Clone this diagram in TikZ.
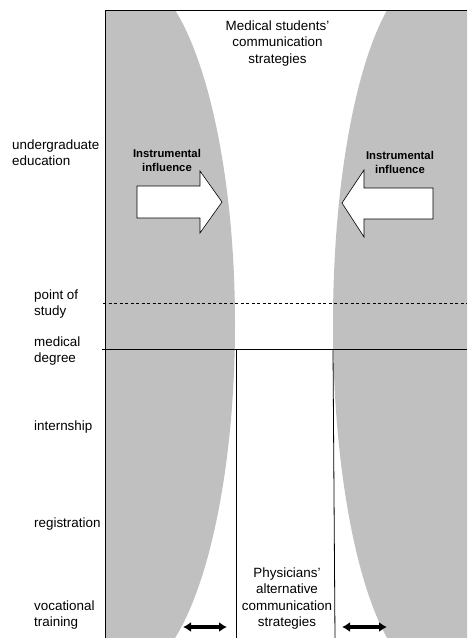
\documentclass[tikz,border=0pt]{standalone}
\usepackage{fontspec}
\setmainfont{Liberation Sans}
\usetikzlibrary{arrows.meta}
\definecolor{funnelgrey}{RGB}{192,192,192}
\begin{document}
\begin{tikzpicture}[x=1pt,y=-1pt,
  lbl/.style={anchor=west, align=left, font=\fontsize{13.4}{16}\selectfont, inner sep=0pt},
  ctext/.style={align=center, font=\fontsize{13.4}{16.5}\selectfont, inner sep=0pt},
  infl/.style={align=center, font=\bfseries\fontsize{11.3}{14}\selectfont, inner sep=0pt},
  frameline/.style={line width=0.8pt},
  blockarrow/.style={fill=white, draw=black, line width=0.6pt, line join=miter},
  spread/.style={line width=3.6pt, {Latex[length=8pt,width=10pt]}-{Latex[length=8pt,width=10pt]}}]
\useasboundingbox (0,0) rectangle (467,638);

% grey funnels on both sides
\begin{scope}
  \clip (105,10) rectangle (467,638);
  \fill[funnelgrey] (127.5,324) ellipse [x radius=107.5pt, y radius=350pt];
  \fill[funnelgrey] (430,324) ellipse [x radius=97pt, y radius=350pt];
\end{scope}

% frame and time markers
\coordinate (ftop) at (105,10);
\coordinate (ftopR) at (467,10);
\coordinate (fbot) at (105,638);
\draw[frameline] (ftopR) -- (ftop) -- (fbot);
\coordinate (dashL) at (103,303);
\coordinate (dashR) at (467,303);
\draw[frameline, dash pattern=on 3pt off 2.5pt] (dashL) -- (dashR);
\coordinate (degL) at (102,349);
\coordinate (degR) at (467,349);
\draw[frameline] (degL) -- (degR);
\coordinate (chL1) at (236,349);
\coordinate (chL2) at (236,638);
\coordinate (chR1) at (333,349);
\coordinate (chR2) at (335,638);
\draw[frameline] (chL1) -- (chL2);
\draw[frameline] (chR1) -- (chR2);

% block arrows
\draw[blockarrow] (137,186) -- (200,186) -- (200,171) -- (222,202) -- (200,233) -- (200,218) -- (137,218) -- cycle;
\draw[blockarrow] (433,188) -- (364,188) -- (364,170) -- (342,203) -- (364,237) -- (364,219) -- (433,219) -- cycle;

% labels
\node[ctext] (students) at (277.5,43.5) {Medical students'\\communication\\strategies};
\node[infl] (inflL) at (167,160) {Instrumental\\influence};
\node[infl] (inflR) at (400,162.5) {Instrumental\\influence};
\node[lbl] (ug) at (12,152.5) {undergraduate\\education};
\node[lbl] (pos) at (34,304) {point of\\study};
\node[lbl] (md) at (34,351.5) {medical\\degree};
\node[lbl] (intern) at (34,427) {internship};
\node[lbl] (reg) at (34,524) {registration};
\node[lbl] (voc) at (34,615) {vocational\\training};
\node[ctext] (phys) at (287,598.5) {Physicians'\\alternative\\communication\\strategies};

% width indicators
\coordinate (sLa) at (183,627);
\coordinate (sLb) at (227,627);
\coordinate (sRa) at (342,627);
\coordinate (sRb) at (387,627);
\draw[spread] (sLa) -- (sLb);
\draw[spread] (sRa) -- (sRb);
\end{tikzpicture}
\end{document}
